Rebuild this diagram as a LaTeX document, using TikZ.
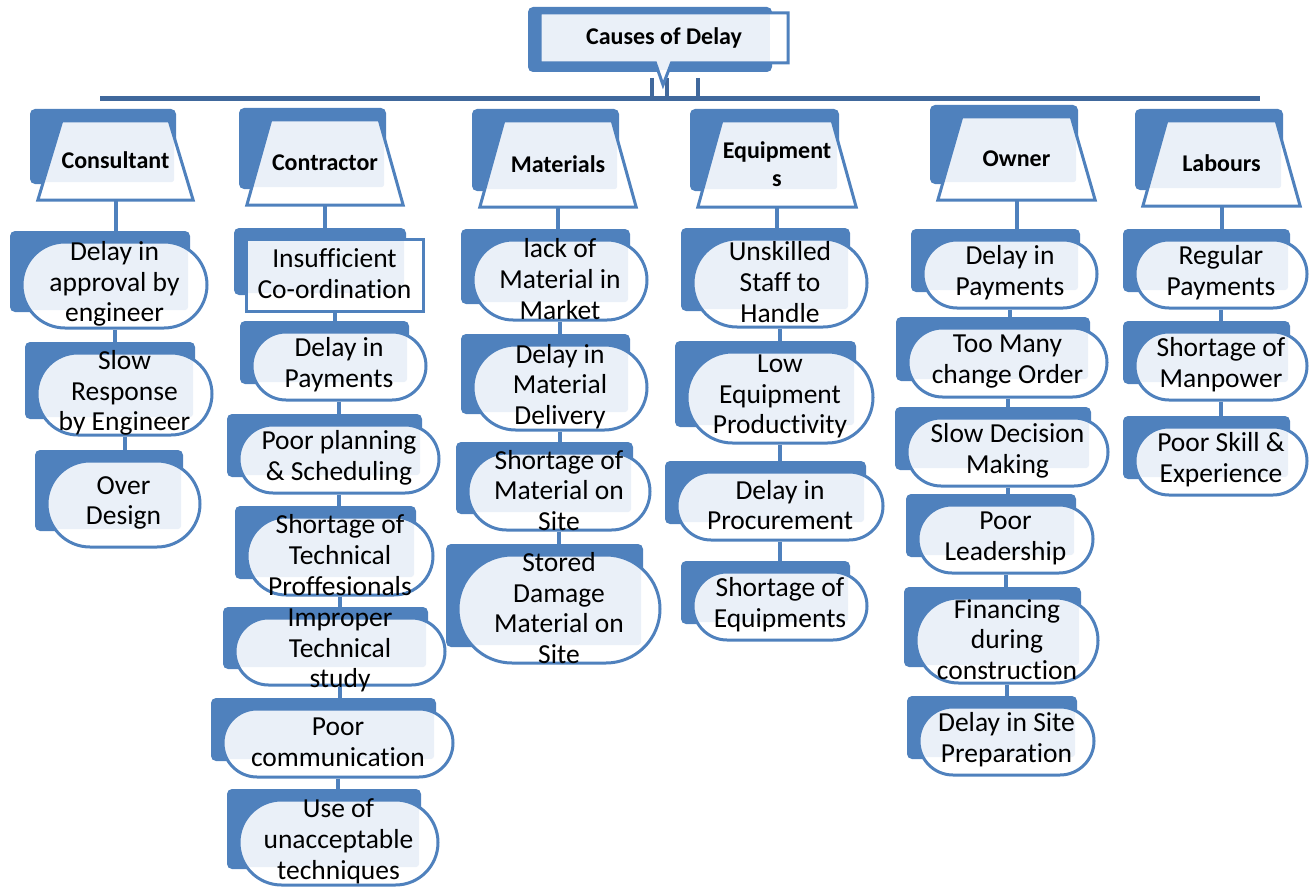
\documentclass[tikz,border=0pt]{standalone}
\usepackage{fontspec}
\setmainfont{Carlito}[Ligatures=NoCommon]
\usetikzlibrary{shapes.misc,shapes.callouts,backgrounds}
\definecolor{boxblue}{RGB}{79,129,189}
\definecolor{barblue}{RGB}{64,104,156}
\definecolor{paleblue}{RGB}{234,240,248}

\begin{document}
\begin{tikzpicture}[x=1pt,y=-1pt,
   link/.style={boxblue, line width=4pt},
   bar/.style={barblue, line width=5pt},
   shade/.style={fill=boxblue, rounded corners=5pt},
   front/.style 2 args={draw=boxblue, line width=3pt, fill=white, inner sep=0pt,
      path picture={\fill[paleblue, rounded corners=3pt]
         ([shift={(#1,#2)}]path picture bounding box.north west) rectangle
         ([shift={(-19pt,18pt)}]path picture bounding box.south east);}},
   cause/.style={front={-10pt}{9pt}, rounded rectangle},
   plain/.style={front={-10pt}{9pt}, rectangle},
   group/.style={front={-6pt}{10pt}, line join=miter},
   itemtext/.style={align=center, yshift=1pt, font=\fontsize{27.5}{30.8}\selectfont},
   headtext/.style={align=center, font=\bfseries\fontsize{24}{28}\selectfont}]
   \useasboundingbox (0,0) rectangle (1309,888);

   % top of the tree
   \coordinate (barL) at (100,99);
   \coordinate (barR) at (1260,99);
   \draw[bar] (barL) -- (barR);
   \foreach \sx in {652,667,698}
      \draw[bar, line width=4pt] (\sx,78) -- (\sx,99);
   \fill[shade] (528,7) rectangle (772,72);
   \node (root) at (664,38) [rectangle callout, draw=boxblue, line width=3pt, fill=white,
      callout absolute pointer={(663,85)}, callout pointer width=16pt,
      minimum width=248pt, minimum height=50pt,
      path picture={\fill[paleblue]
         ([shift={(-10pt,4pt)}]path picture bounding box.north west) rectangle
         ([shift={(230pt,-57pt)}]path picture bounding box.north west);},
      label={[headtext]center:Causes of Delay}] {};

   % groups
   \foreach \n/\xl/\yt/\xr/\yb/\txt in {cons/38/121/193/200/Consultant,
         cont/247/120/403/205/Contractor, mat/480/121/636/207/Materials,
         equ/698/121/856/207/{Equipment\\s}, own/938/117/1095/200/Owner,
         lab/1143/121/1300/206/Labours}{
      \node (\n) at ({(\xl+\xr)/2},{(\yt+\yb)/2}) [inner sep=0pt,
         minimum width={(\xr-\xl)*1pt}, minimum height={(\yb-\yt)*1pt},
         label={[headtext]center:\txt}] {};
      \begin{pgfonlayer}{background}
         \fill[shade] (\xl-8,\yt-12) rectangle (\xr-17,\yb-16);
         \path[group] (\n.south west) -- ([xshift=24pt]\n.north west)
            -- ([xshift=-24pt]\n.north east) -- (\n.south east) -- cycle;
      \end{pgfonlayer}
   }

   % causes
   \node (k1) at (334.5,275) [plain, minimum width=177pt, minimum height=72pt,
      label={[itemtext]center:Insufficient\\Co-ordination}] {};
   \begin{pgfonlayer}{background}
      \draw[link] (cont.south) -- (cont.south |- k1.north);
      \fill[shade] (234,228) rectangle (406,295);
   \end{pgfonlayer}

   \foreach \n/\xl/\yt/\xr/\yb/\txt [remember=\n as \p (initially cons)] in {
         c1/22/242/207/328/{Delay in\\approval by\\engineer},
         c2/37/353/212/435/{Slow\\Response\\by Engineer},
         c3/47/461/200/547/{Over\\Design}}{
      \node (\n) at ({(\xl+\xr)/2},{(\yt+\yb)/2}) [cause,
         minimum width={(\xr-\xl)*1pt}, minimum height={(\yb-\yt)*1pt},
         label={[itemtext]center:\txt}] {};
      \begin{pgfonlayer}{background}
         \draw[link] (\p.south) -- (\p.south |- \n.north);
         \fill[shade] (\xl-12,\yt-11) rectangle (\xr-17,\yb-16);
      \end{pgfonlayer}
   }

   \foreach \n/\xl/\yt/\xr/\yb/\txt [remember=\n as \p (initially k1)] in {
         k2/252/332/426/400/{Delay in\\Payments},
         k3/239/425/439/493/{Poor planning\\\& Scheduling},
         k4/247/517/433/595/{Shortage of\\Technical\\Proffesionals},
         k5/235/618/445/685/{Improper\\Technical\\study},
         k6/223/709/453/777/{Poor\\communication},
         k7/239/800/438/885/{Use of\\unacceptable\\techniques}}{
      \node (\n) at ({(\xl+\xr)/2},{(\yt+\yb)/2}) [cause,
         minimum width={(\xr-\xl)*1pt}, minimum height={(\yb-\yt)*1pt},
         label={[itemtext]center:\txt}] {};
      \begin{pgfonlayer}{background}
         \draw[link] (\p.south) -- (\p.south |- \n.north);
         \fill[shade] (\xl-12,\yt-11) rectangle (\xr-17,\yb-16);
      \end{pgfonlayer}
   }

   \foreach \n/\xl/\yt/\xr/\yb/\txt [remember=\n as \p (initially mat)] in {
         m1/473/240/647/320/{lack of\\Material in\\Market},
         m2/473/345/647/430/{Delay in\\Material\\Delivery},
         m3/468/453/650/530/{Shortage of\\Material on\\Site},
         m4/458/555/660/663/{Stored\\Damage\\Material on\\Site}}{
      \node (\n) at ({(\xl+\xr)/2},{(\yt+\yb)/2}) [cause,
         minimum width={(\xr-\xl)*1pt}, minimum height={(\yb-\yt)*1pt},
         label={[itemtext]center:\txt}] {};
      \begin{pgfonlayer}{background}
         \draw[link] (\p.south) -- (\p.south |- \n.north);
         \fill[shade] (\xl-12,\yt-11) rectangle (\xr-17,\yb-16);
      \end{pgfonlayer}
   }

   \foreach \n/\xl/\yt/\xr/\yb/\txt [remember=\n as \p (initially equ)] in {
         e1/693/239/867/327/{Unskilled\\Staff to\\Handle},
         e2/687/352/873/443/{Low\\Equipment\\Productivity},
         e3/677/472/883/540/{Delay in\\Procurement},
         e4/693/572/867/640/{Shortage of\\Equipments}}{
      \node (\n) at ({(\xl+\xr)/2},{(\yt+\yb)/2}) [cause,
         minimum width={(\xr-\xl)*1pt}, minimum height={(\yb-\yt)*1pt},
         label={[itemtext]center:\txt}] {};
      \begin{pgfonlayer}{background}
         \draw[link] (\p.south) -- (\p.south |- \n.north);
         \fill[shade] (\xl-12,\yt-11) rectangle (\xr-17,\yb-16);
      \end{pgfonlayer}
   }

   \foreach \n/\xl/\yt/\xr/\yb/\txt [remember=\n as \p (initially own)] in {
         o1/923/240/1097/308/{Delay in\\Payments},
         o2/908/328/1107/397/{Too Many\\change Order},
         o3/907/418/1108/486/{Slow Decision\\Making},
         o4/918/505/1093/573/{Poor\\Leadership},
         o5/916/598/1098/683/{Financing\\during\\construction},
         o6/919/707/1094/775/{Delay in Site\\Preparation}}{
      \node (\n) at ({(\xl+\xr)/2},{(\yt+\yb)/2}) [cause,
         minimum width={(\xr-\xl)*1pt}, minimum height={(\yb-\yt)*1pt},
         label={[itemtext]center:\txt}] {};
      \begin{pgfonlayer}{background}
         \draw[link] (\p.south) -- (\p.south |- \n.north);
         \fill[shade] (\xl-12,\yt-11) rectangle (\xr-17,\yb-16);
      \end{pgfonlayer}
   }

   \foreach \n/\xl/\yt/\xr/\yb/\txt [remember=\n as \p (initially lab)] in {
         l1/1135/240/1307/308/{Regular\\Payments},
         l2/1135/332/1307/400/{Shortage of\\Manpower},
         l3/1135/427/1307/495/{Poor Skill \&\\Experience}}{
      \node (\n) at ({(\xl+\xr)/2},{(\yt+\yb)/2}) [cause,
         minimum width={(\xr-\xl)*1pt}, minimum height={(\yb-\yt)*1pt},
         label={[itemtext]center:\txt}] {};
      \begin{pgfonlayer}{background}
         \draw[link] (\p.south) -- (\p.south |- \n.north);
         \fill[shade] (\xl-12,\yt-11) rectangle (\xr-17,\yb-16);
      \end{pgfonlayer}
   }
\end{tikzpicture}
\end{document}
